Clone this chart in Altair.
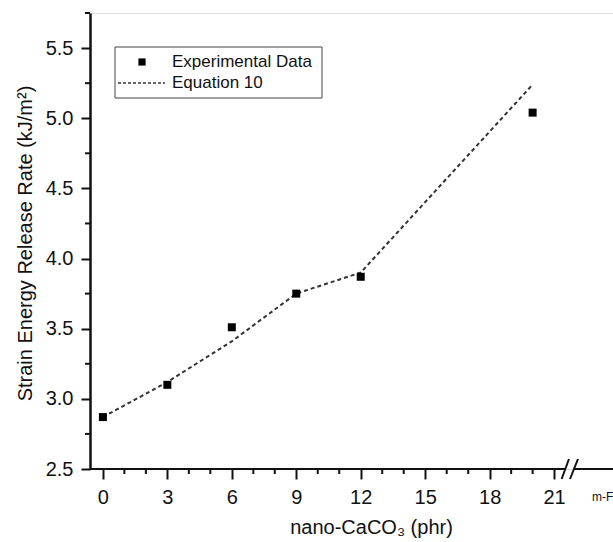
import altair as alt
import pandas as pd

# ---- data ----
phr = [0, 3, 6, 9, 12, 20]
experimental = [2.87, 3.10, 3.51, 3.75, 3.87, 5.04]
equation10 = [2.87, 3.12, 3.41, 3.75, 3.90, 5.24]

x_major = [0, 3, 6, 9, 12, 15, 18, 21]
x_minor = [1, 2, 4, 5, 7, 8, 10, 11, 13, 14, 16, 17, 19, 20]
y_major = [2.5, 3.0, 3.5, 4.0, 4.5, 5.0, 5.5]
y_minor = [2.75, 3.25, 3.75, 4.25, 4.75, 5.25, 5.75]

x_domain = [-0.6, 23.74]
y_domain = [2.5, 5.75]
axis_segments_start = [-0.6, 21.93]
axis_segments_end = [21.51, 23.74]
break_x_start = [21.35, 21.74]
break_x_end = [21.69, 22.11]

W, H = 523, 456
FONT = "Liberation Sans"
INK = "#111111"
LABEL_SIZE = 20

pts = pd.DataFrame({"phr": phr, "G": experimental})
eq = pd.DataFrame({"phr": phr, "G": equation10})

xs = alt.Scale(domain=x_domain, nice=False, zero=False)
ys = alt.Scale(domain=y_domain, nice=False, zero=False)

x_axis = alt.Axis(
    values=x_major, domain=False, grid=False, tickSize=10, tickWidth=2,
    tickColor=INK, labelFontSize=LABEL_SIZE, labelColor=INK, labelPadding=8,
    labelFont=FONT, title="nano-CaCO₃ (phr)", titleFont=FONT,
    titleFontSize=20, titleFontWeight="normal", titleColor=INK,
    titleX=281, titleY=64, titleBaseline="alphabetic", titleAlign="center",
)
y_axis = alt.Axis(
    values=y_major, format=".1f", domain=True, domainWidth=2.5, domainColor=INK,
    grid=False, tickSize=9, tickWidth=2, tickColor=INK, labelFontSize=LABEL_SIZE,
    labelColor=INK, labelPadding=8, labelFont=FONT,
    title="Strain Energy Release Rate (kJ/m²)", titleFont=FONT,
    titleFontSize=20, titleFontWeight="normal", titleColor=INK,
    titleX=-65, titleY=230, titleBaseline="middle", titleAlign="center",
    titleAngle=270,
)

line = alt.Chart(eq).mark_line(
    color="#333333", strokeWidth=2, strokeDash=[4, 3]
).encode(
    x=alt.X("phr:Q", scale=xs, axis=x_axis),
    y=alt.Y("G:Q", scale=ys, axis=y_axis),
)

points = alt.Chart(pts).mark_square(size=64, color="black", opacity=1).encode(
    x=alt.X("phr:Q", scale=xs, axis=x_axis),
    y=alt.Y("G:Q", scale=ys, axis=y_axis),
)

seg = pd.DataFrame({"a": axis_segments_start, "b": axis_segments_end})
xline = alt.Chart(seg).mark_rule(color=INK, strokeWidth=2).encode(
    x=alt.X("a:Q", scale=xs, axis=x_axis), x2="b:Q", y=alt.value(H)
)
brk = pd.DataFrame({"a": break_x_start, "b": break_x_end})
slashes = alt.Chart(brk).mark_rule(color=INK, strokeWidth=2).encode(
    x=alt.X("a:Q", scale=xs, axis=x_axis), x2="b:Q",
    y=alt.value(H + 10), y2=alt.value(H - 10)
)

xmin = alt.Chart(pd.DataFrame({"v": x_minor})).mark_rule(color=INK, strokeWidth=2).encode(
    x=alt.X("v:Q", scale=xs, axis=x_axis), y=alt.value(H), y2=alt.value(H + 5)
)
ymin = alt.Chart(pd.DataFrame({"v": y_minor})).mark_rule(color=INK, strokeWidth=2).encode(
    y=alt.Y("v:Q", scale=ys, axis=y_axis), x=alt.value(0), x2=alt.value(-5)
)

one = pd.DataFrame({"k": [0]})
box = alt.Chart(one).mark_rect(fill="white", stroke="#444444", strokeWidth=1).encode(
    x=alt.value(25), x2=alt.value(232), y=alt.value(34), y2=alt.value(85)
)
leg_sq = alt.Chart(one).mark_square(size=52, color="black", opacity=1).encode(
    x=alt.value(52), y=alt.value(49)
)
leg_ln = alt.Chart(one).mark_rule(color="#333333", strokeWidth=1.5, strokeDash=[3, 2]).encode(
    x=alt.value(28), x2=alt.value(75), y=alt.value(70)
)
leg_t1 = alt.Chart(one).mark_text(
    text="Experimental Data", align="left", baseline="middle", font=FONT,
    fontSize=17, color=INK
).encode(x=alt.value(82), y=alt.value(49))
leg_t2 = alt.Chart(one).mark_text(
    text="Equation 10", align="left", baseline="middle", font=FONT,
    fontSize=17, color=INK
).encode(x=alt.value(82), y=alt.value(70))

extra = alt.Chart(one).mark_text(
    text="m-F", align="left", baseline="middle", font=FONT, fontSize=12, color=INK
).encode(x=alt.value(502), y=alt.value(484))

chart = alt.layer(
    line, points, xline, slashes, xmin, ymin, box, leg_sq, leg_ln, leg_t1, leg_t2, extra
).properties(
    width=W, height=H,
    autosize=alt.AutoSizeParams(type="none"),
    padding={"left": 90, "top": 13, "right": 0, "bottom": 73},
).configure_view(stroke=None).configure_axis(
    labelFontSize=LABEL_SIZE, labelFont=FONT, labelColor=INK,
    titleFont=FONT, titleFontSize=20, titleFontWeight="normal", titleColor=INK,
).configure(font=FONT, background="white")

chart.save("out.html", embed_options={"renderer": "svg", "actions": False})
